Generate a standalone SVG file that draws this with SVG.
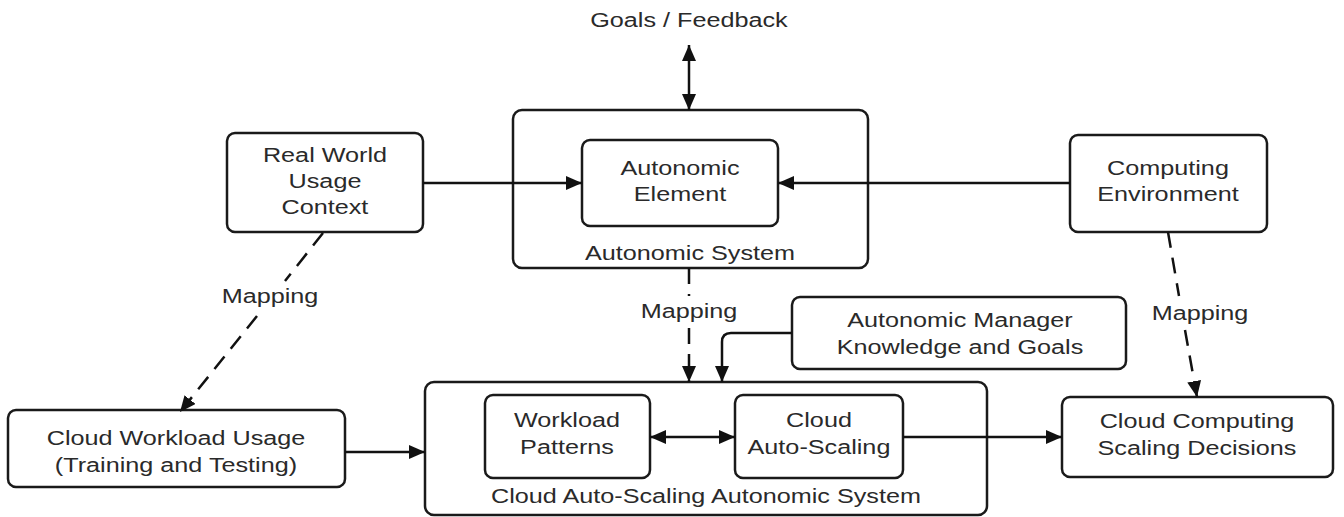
<svg xmlns="http://www.w3.org/2000/svg" width="1344" height="517" viewBox="0 0 1344 517">
<style>
.box{fill:#fff;stroke:#1a1a1a;stroke-width:2.5}
.t{font-family:"Liberation Sans",Arial,sans-serif;font-size:21px;fill:#2a2a2a;text-anchor:middle;transform-box:fill-box;transform-origin:center;transform:scaleX(1.2)}
.c{fill:none;stroke:#111;stroke-width:2.5}
.d{stroke-dasharray:16 10}
</style>
<defs>
<marker id="ah" viewBox="0 0 16 14" refX="16" refY="7" markerWidth="16" markerHeight="14" markerUnits="userSpaceOnUse" orient="auto-start-reverse">
<path d="M0,0 L16,7 L0,14 Z" fill="#111"/>
</marker>
</defs>
<rect width="1344" height="517" fill="#fff"/>
<g id="goals"><text class="t" x="689" y="27">Goals / Feedback</text></g>
<g id="autonomic-system"><rect class="box" x="513" y="110" width="355" height="158" rx="9"/><text class="t" x="690" y="260">Autonomic System</text></g>
<g id="autonomic-element"><rect class="box" x="582" y="140" width="196" height="86" rx="8"/><text class="t" x="680" y="175">Autonomic</text><text class="t" x="680" y="201">Element</text></g>
<g id="real-world"><rect class="box" x="227" y="133" width="196" height="99" rx="8"/><text class="t" x="325" y="162">Real World</text><text class="t" x="325" y="188">Usage</text><text class="t" x="325" y="214">Context</text></g>
<g id="computing-env"><rect class="box" x="1070" y="135" width="197" height="97" rx="8"/><text class="t" x="1168" y="175">Computing</text><text class="t" x="1168" y="201">Environment</text></g>
<g id="manager"><rect class="box" x="792" y="297" width="334" height="72" rx="8"/><text class="t" x="960" y="327">Autonomic Manager</text><text class="t" x="960" y="354">Knowledge and Goals</text></g>
<g id="cloud-workload"><rect class="box" x="8" y="410" width="337" height="77" rx="8"/><text class="t" x="176" y="445">Cloud Workload Usage</text><text class="t" x="176" y="472">(Training and Testing)</text></g>
<g id="cloud-system"><rect class="box" x="425" y="382" width="562" height="133" rx="9"/><text class="t" x="706" y="503">Cloud Auto-Scaling Autonomic System</text></g>
<g id="workload-patterns"><rect class="box" x="485" y="395" width="165" height="83" rx="8"/><text class="t" x="567" y="427">Workload</text><text class="t" x="567" y="454">Patterns</text></g>
<g id="cloud-autoscaling"><rect class="box" x="735" y="395" width="168" height="83" rx="8"/><text class="t" x="819" y="427">Cloud</text><text class="t" x="819" y="454">Auto-Scaling</text></g>
<g id="cloud-decisions"><rect class="box" x="1062" y="397" width="271" height="80" rx="8"/><text class="t" x="1197" y="428">Cloud Computing</text><text class="t" x="1197" y="455">Scaling Decisions</text></g>
<g id="connectors">
<path class="c" d="M689,45 L689,110" marker-start="url(#ah)" marker-end="url(#ah)"/>
<path class="c" d="M423,183 L582,183" marker-end="url(#ah)"/>
<path class="c" d="M1070,183 L778,183" marker-end="url(#ah)"/>
<path class="c d" d="M323,233 L285,281"/>
<path class="c d" d="M257,316 L180,412" marker-end="url(#ah)"/>
<text class="t" x="270" y="303">Mapping</text>
<path class="c d" d="M689,268 L689,296"/>
<path class="c d" d="M689,328 L689,382" marker-end="url(#ah)"/>
<text class="t" x="689" y="318">Mapping</text>
<path class="c d" d="M1168,232 L1179,296"/>
<path class="c d" d="M1185,330 L1197,397" marker-end="url(#ah)"/>
<text class="t" x="1200" y="320">Mapping</text>
<path class="c" d="M792,333 L731,333 Q722,333 722,342 L722,382" marker-end="url(#ah)"/>
<path class="c" d="M345,452 L425,452" marker-end="url(#ah)"/>
<path class="c" d="M650,437 L735,437" marker-start="url(#ah)" marker-end="url(#ah)"/>
<path class="c" d="M903,437 L1062,437" marker-end="url(#ah)"/>
</g>
</svg>
